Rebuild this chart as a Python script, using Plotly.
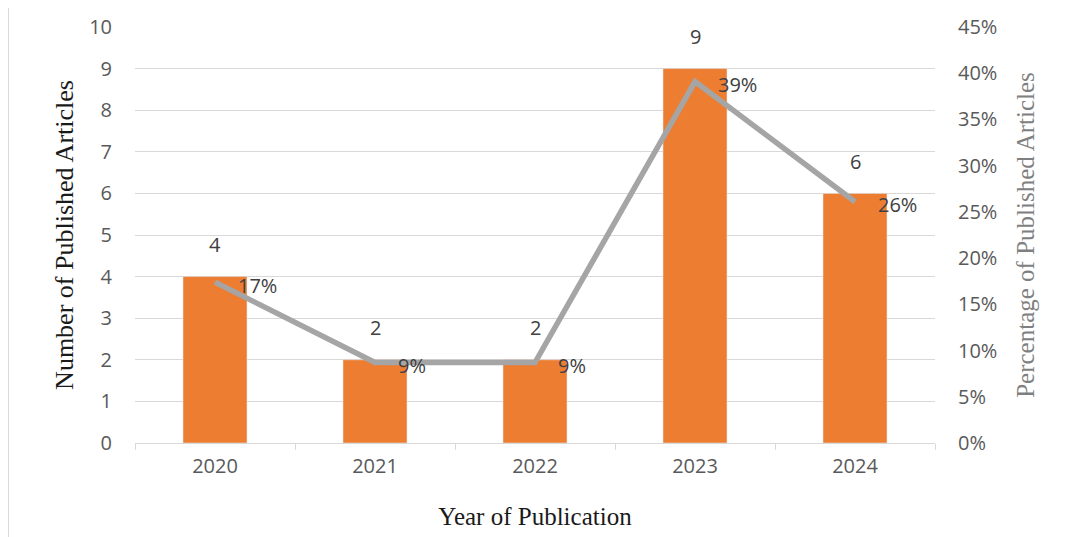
import plotly.graph_objects as go

years = ["2020", "2021", "2022", "2023", "2024"]
counts = [4, 2, 2, 9, 6]
percents = [0.174, 0.087, 0.087, 0.391, 0.261]
pct_labels = ["17%", "9%", "9%", "39%", "26%"]

BAR = "#ED7D31"
LINE = "#A5A5A5"
GRID = "#D9D9D9"
TICK = "#595959"
FS = 20

fig = go.Figure()
fig.add_trace(go.Bar(x=years, y=counts, marker_color=BAR, width=0.4,
                     name="Number", yaxis="y"))
fig.add_trace(go.Scatter(x=years, y=percents, mode="lines", yaxis="y2",
                         line=dict(color=LINE, width=5.5), name="Percentage"))

annotations = []
for i, c in enumerate(counts):
    annotations.append(dict(x=i, y=c, xref="x", yref="y", text=str(c),
                            showarrow=False, yshift=32,
                            font=dict(family="Open Sans", size=FS, color="#404040")))
for i, (p, t) in enumerate(zip(percents, pct_labels)):
    annotations.append(dict(x=i, y=p, xref="x", yref="y2", text=t,
                            showarrow=False, xanchor="left", xshift=21, yshift=-3,
                            font=dict(family="Open Sans", size=FS, color="#404040")))

fig.update_layout(
    width=1071, height=537,
    margin=dict(l=127, r=144, t=19, b=102, autoexpand=False),
    paper_bgcolor="white", plot_bgcolor="white",
    showlegend=False,
    bargap=0.6,
    annotations=annotations,
    font=dict(family="Open Sans", color=TICK),
    xaxis=dict(
        type="category", range=[-0.5, len(years) - 0.5], autorange=False,
        showgrid=False, showline=True, linecolor=GRID, linewidth=1,
        ticks="outside", tickson="boundaries", ticklen=6, tickcolor=GRID,
        ticklabelstandoff=5,
        tickfont=dict(family="Open Sans", size=FS, color=TICK),
        title=dict(text="Year of Publication",
                   font=dict(family="Liberation Serif", size=25, color="#1a1a1a"),
                   standoff=29),
    ),
    yaxis=dict(
        range=[0, 10], dtick=1, showgrid=True, gridcolor=GRID, gridwidth=1,
        zeroline=False, showline=False,
        ticks="outside", ticklen=18, tickcolor="rgba(0,0,0,0)",
        tickfont=dict(family="Open Sans", size=FS, color=TICK),
        title=dict(text="Number of Published Articles",
                   font=dict(family="Liberation Serif", size=26, color="#1a1a1a"),
                   standoff=8),
    ),
    yaxis2=dict(
        range=[0, 0.45], dtick=0.05, tickformat=".0%", overlaying="y", side="right",
        showgrid=False, zeroline=False, showline=False,
        ticks="outside", ticklen=18, tickcolor="rgba(0,0,0,0)",
        tickfont=dict(family="Open Sans", size=FS, color=TICK),
        title=dict(text="Percentage of Published Articles",
                   font=dict(family="Liberation Serif", size=25, color="#7F7F7F"),
                   standoff=20),
    ),
    shapes=[dict(type="line", xref="paper", yref="paper", x0=-0.159, x1=-0.159,
                 y0=-0.25, y1=1.05, line=dict(color="#D0D0D0", width=2))],
)

fig.write_html("out.html")
